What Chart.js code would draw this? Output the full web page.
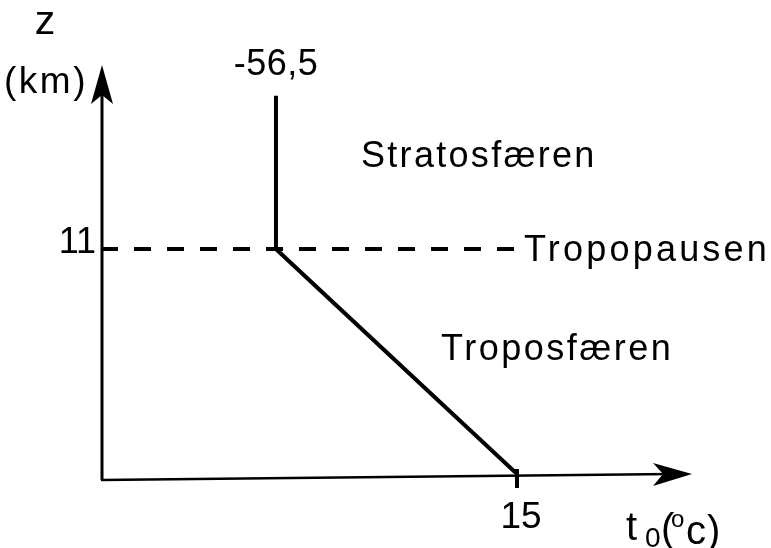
<!DOCTYPE html>
<html>
<head>
<meta charset="utf-8">
<script src="https://cdn.jsdelivr.net/npm/chart.js@4/dist/chart.umd.min.js"></script>
<style>
  html, body { margin: 0; padding: 0; background: #fff; }
  #c { display: block; }
</style>
</head>
<body>
<canvas id="c" width="771" height="548"></canvas>
<script>
// temperature profile (t0 in °C, z in km)
const profileTemp = [15, -56.5, -56.5];
const profileAlt = [0, 11, 18.5];
const tropopauseAlt = 11;
const tempTicks = ["-56,5", "15"];
const altTicks = ["11"];
const regionNames = ["Stratosfæren", "Tropopausen", "Troposfæren"];

// axis range of the sketch
const tempMin = -108.4;
const tempMax = 66.9;
const altMin = 0;
const altMax = 20;

const FONT = "'Liberation Sans', Arial, sans-serif";

function arrow(ctx, pts) {
  ctx.beginPath();
  ctx.moveTo(pts[0][0], pts[0][1]);
  for (let i = 1; i < pts.length; i++) ctx.lineTo(pts[i][0], pts[i][1]);
  ctx.closePath();
  ctx.fill();
}

function txt(ctx, s, x, y, size, align, spacing) {
  ctx.font = size + "px " + FONT;
  ctx.textAlign = align || "left";
  ctx.textBaseline = "alphabetic";
  ctx.letterSpacing = (spacing || 0) + "px";
  ctx.fillText(s, x, y);
  ctx.letterSpacing = "0px";
}

const sketchPlugin = {
  id: "sketch",
  afterDraw(chart) {
    const ctx = chart.ctx;
    const xs = chart.scales.x, ys = chart.scales.y;
    const x0 = xs.getPixelForValue(tempMin);
    const yTop = ys.getPixelForValue(altMax);
    const yBase = ys.getPixelForValue(altMin);
    const xEnd = xs.getPixelForValue(tempMax);
    ctx.save();
    ctx.fillStyle = "#000";
    ctx.strokeStyle = "#000";

    // axes
    ctx.lineWidth = 3;
    ctx.beginPath();
    ctx.moveTo(x0 + 1, yBase + 6);
    ctx.lineTo(x0 + 1, yTop + 20);
    ctx.stroke();
    ctx.lineWidth = 2.6;
    ctx.beginPath();
    ctx.moveTo(x0, yBase + 6);
    ctx.lineTo(xEnd - 20, yBase);
    ctx.stroke();
    arrow(ctx, [[x0 + 1, yTop], [x0 - 10, yTop + 39], [x0 + 1, yTop + 30], [x0 + 12, yTop + 39]]);
    arrow(ctx, [[xEnd, yBase], [xEnd - 39, yBase - 11], [xEnd - 29, yBase], [xEnd - 39, yBase + 12]]);

    // tick at 15
    const x15 = xs.getPixelForValue(profileTemp[0]);
    ctx.lineWidth = 4;
    ctx.beginPath();
    ctx.moveTo(x15, yBase - 5);
    ctx.lineTo(x15, yBase + 14);
    ctx.stroke();

    // labels
    const xTp = xs.getPixelForValue(profileTemp[1]);
    const yTopLine = ys.getPixelForValue(profileAlt[2]);
    const y11 = ys.getPixelForValue(tropopauseAlt);
    txt(ctx, "z", 45, 34, 41, "center");
    txt(ctx, "(km)", 4, 93, 37, "left", 2.5);
    txt(ctx, tempTicks[0], xTp, yTopLine - 21, 36, "center", 0.5);
    txt(ctx, altTicks[0], x0 - 5, y11 + 4, 36, "right");
    txt(ctx, tempTicks[1], x15 + 4, 528, 37, "center");
    txt(ctx, regionNames[0], 361, 167, 36, "left", 2.3);
    txt(ctx, regionNames[1], 524, y11 + 12, 36, "left", 3.2);
    txt(ctx, regionNames[2], 441, 360, 36, "left", 2.5);

    // t0 (°c)
    txt(ctx, "t", 626, 540, 40, "left");
    txt(ctx, "0", 645, 547, 28, "left");
    txt(ctx, "(", 661, 542, 40, "left");
    txt(ctx, "o", 671, 527, 24, "left");
    txt(ctx, "c)", 686, 544, 40, "left", 1);
    ctx.restore();
  }
};

const profile = profileTemp.map((t, i) => ({ x: t, y: profileAlt[i] }));
const tropopause = [
  { x: tempMin, y: tropopauseAlt },
  { x: profileTemp[0], y: tropopauseAlt }
];

new Chart(document.getElementById("c"), {
  type: "scatter",
  data: {
    datasets: [
      {
        label: "Tropopausen",
        data: tropopause,
        showLine: true,
        borderColor: "#000",
        borderWidth: 4,
        borderDash: [17, 16],
        pointRadius: 0
      },
      {
        label: "profile",
        data: profile,
        showLine: true,
        borderColor: "#000",
        borderWidth: 4,
        pointRadius: 0,
        tension: 0
      }
    ]
  },
  options: {
    responsive: false,
    animation: false,
    layout: { padding: { left: 101, right: 79, top: 65, bottom: 74 } },
    plugins: {
      legend: { display: false },
      tooltip: { enabled: false }
    },
    scales: {
      x: { type: "linear", display: false, min: tempMin, max: tempMax },
      y: { type: "linear", display: false, min: altMin, max: altMax }
    }
  },
  plugins: [sketchPlugin]
});
</script>
</body>
</html>
